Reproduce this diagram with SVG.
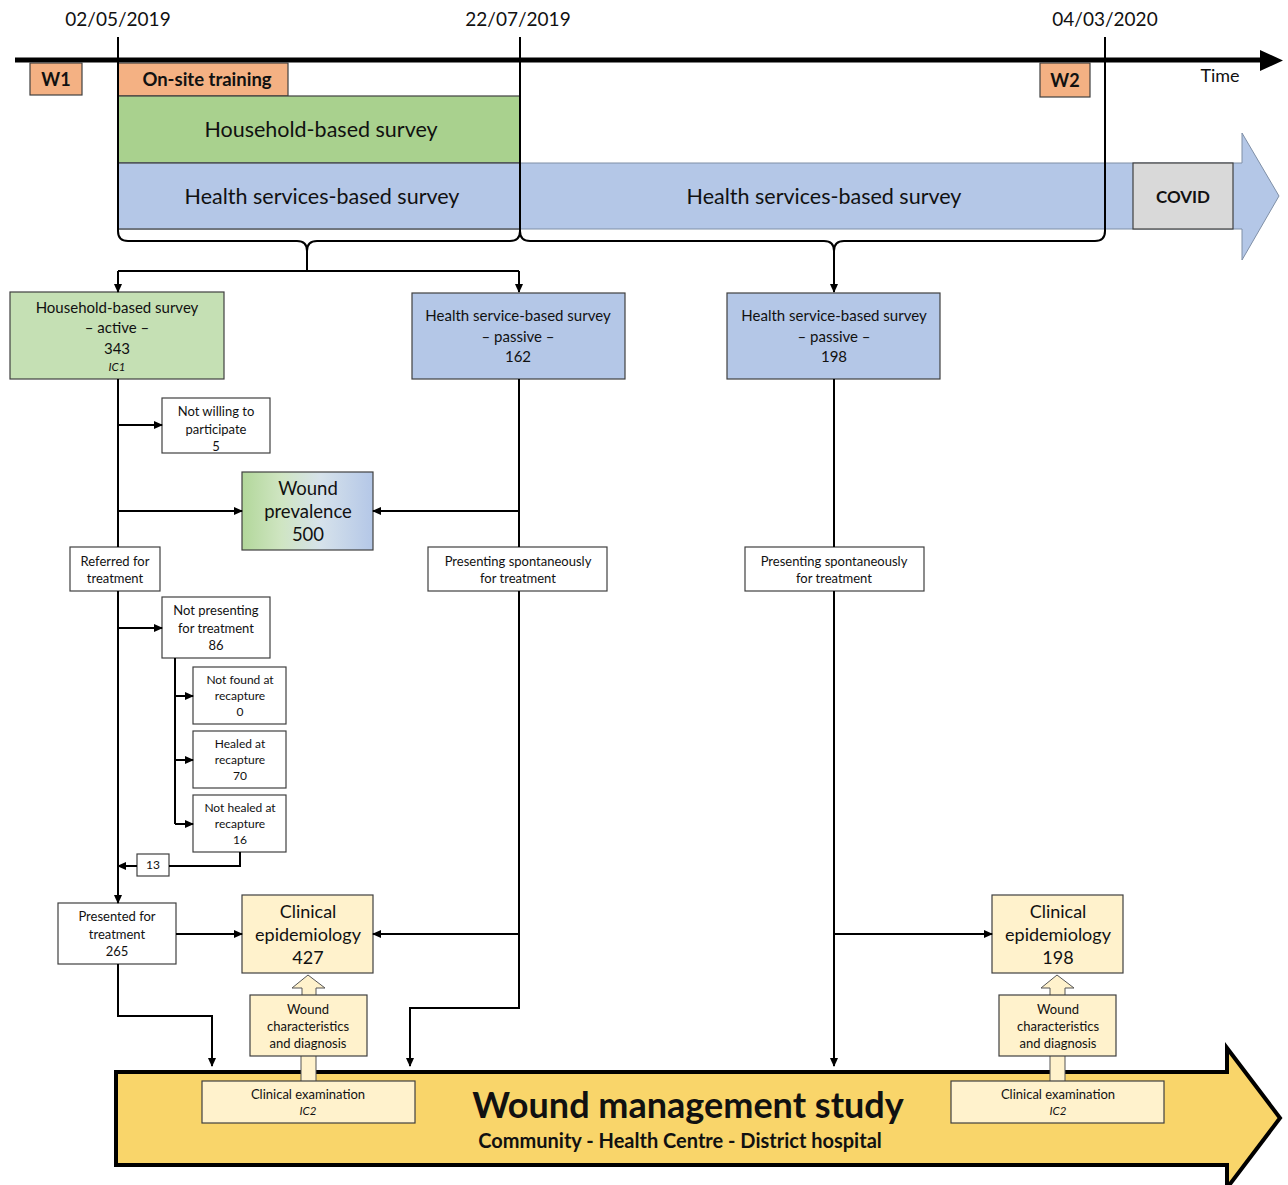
<svg xmlns="http://www.w3.org/2000/svg" width="1288" height="1185" viewBox="0 0 1288 1185">
<defs>
<style>
text{font-family:Lato,"Open Sans","Liberation Sans",sans-serif;fill:#111;text-anchor:middle}
.b{font-weight:bold}
.i{font-style:italic}
.box{stroke:#404040;stroke-width:1.2}
.w{fill:#fff}
.or{fill:#F4B183}
.gr{fill:#A9D18E}
.lg{fill:#C5E0B4}
.bl{fill:#B4C7E7}
.ly{fill:#FFF2CC}
.ln{fill:none;stroke:#000;stroke-width:2}
.ar{fill:none;stroke:#000;stroke-width:2;marker-end:url(#ah)}
</style>
<marker id="ah" markerWidth="9" markerHeight="8" refX="8" refY="4" orient="auto" markerUnits="userSpaceOnUse"><path d="M0,0 L9,4 L0,8 z" fill="#000"/></marker>
<linearGradient id="wp" x1="0" y1="0" x2="1" y2="0">
<stop offset="0" stop-color="#B2D79A"/>
<stop offset="0.3" stop-color="#CFE5C2"/>
<stop offset="0.6" stop-color="#D6E2EB"/>
<stop offset="1" stop-color="#B4C7E7"/>
</linearGradient>
</defs>
<rect width="1288" height="1185" fill="#fff"/>

<g id="timeline">
<text x="118" y="26" font-size="19">02/05/2019</text>
<text x="518" y="26" font-size="19">22/07/2019</text>
<text x="1105" y="26" font-size="19">04/03/2020</text>
<path d="M15,60 H1262" stroke="#000" stroke-width="5"/>
<path d="M1260,50 L1283,60.5 L1260,71 z" fill="#000"/>
<text x="1220" y="82" font-size="18">Time</text>
</g>

<g id="w1"><rect class="box or" x="30" y="63" width="52" height="32"/><text class="b" x="56" y="86" font-size="18">W1</text></g>
<g id="training"><rect class="box or" x="118" y="63" width="170" height="33"/><text class="b" x="207" y="86" font-size="18.5">On-site training</text></g>
<g id="w2"><rect class="box or" x="1040" y="63" width="50" height="34"/><text class="b" x="1065" y="87" font-size="18">W2</text></g>

<g id="hh-bar"><rect class="box gr" x="118" y="96" width="402" height="67"/><text x="321" y="137" font-size="21.5">Household-based survey</text></g>
<g id="hs-arrow">
<path class="bl" d="M118,163 H1242 V133 L1279,196 L1242,260 V229 H118 Z" stroke="#7F8FA6" stroke-width="1"/>
<rect class="box bl" x="118" y="163" width="402" height="66"/>
<text x="322" y="204" font-size="21.5">Health services-based survey</text>
<text x="824" y="204" font-size="21.5">Health services-based survey</text>
</g>
<g id="covid"><rect class="box" fill="#D9D9D9" x="1133" y="163" width="100" height="66"/><text class="b" x="1183" y="203" font-size="17">COVID</text></g>

<g id="brackets">
<path class="ln" d="M118,37 V231 Q118,241 128,241 H297 Q307,241 307,251 Q307,241 317,241 H510 Q520,241 520,231 V37"/>
<path class="ln" d="M520,231 Q520,241 530,241 H824 Q834,241 834,251 Q834,241 844,241 H1095 Q1105,241 1105,231 V37"/>
</g>

<g id="hh-active"><rect class="box lg" x="10" y="292" width="214" height="87"/>
<text x="117" y="313" font-size="15">Household-based survey</text>
<text x="117" y="333" font-size="15">– active –</text>
<text x="117" y="354" font-size="15">343</text>
<text class="i" x="117" y="371" font-size="11.5">IC1</text></g>

<g id="hs-passive-1"><rect class="box bl" x="412" y="293" width="213" height="86"/>
<text x="518" y="321" font-size="15">Health service-based survey</text>
<text x="518" y="342" font-size="15">– passive –</text>
<text x="518" y="362" font-size="15">162</text></g>

<g id="hs-passive-2"><rect class="box bl" x="727" y="293" width="213" height="86"/>
<text x="834" y="321" font-size="15">Health service-based survey</text>
<text x="834" y="342" font-size="15">– passive –</text>
<text x="834" y="362" font-size="15">198</text></g>

<g id="not-willing"><rect class="box w" x="162" y="398" width="108" height="55"/>
<text x="216" y="416" font-size="13">Not willing to</text>
<text x="216" y="434" font-size="13">participate</text>
<text x="216" y="451" font-size="13">5</text></g>

<g id="wound-prevalence"><rect class="box" fill="url(#wp)" x="242" y="472" width="131" height="78"/>
<text x="308" y="495" font-size="18.5">Wound</text>
<text x="308" y="518" font-size="18.5">prevalence</text>
<text x="308" y="541" font-size="18.5">500</text></g>

<g id="referred"><rect class="box w" x="70" y="547" width="90" height="44"/>
<text x="115" y="566" font-size="13">Referred for</text>
<text x="115" y="583" font-size="13">treatment</text></g>

<g id="spont-1"><rect class="box w" x="428" y="547" width="179" height="44"/>
<text x="518" y="566" font-size="13">Presenting spontaneously</text>
<text x="518" y="583" font-size="13">for treatment</text></g>

<g id="spont-2"><rect class="box w" x="745" y="547" width="179" height="44"/>
<text x="834" y="566" font-size="13">Presenting spontaneously</text>
<text x="834" y="583" font-size="13">for treatment</text></g>

<g id="not-presenting"><rect class="box w" x="162" y="597" width="108" height="61"/>
<text x="216" y="615" font-size="13">Not presenting</text>
<text x="216" y="633" font-size="13">for treatment</text>
<text x="216" y="650" font-size="13">86</text></g>

<g id="not-found"><rect class="box w" x="193" y="667" width="93" height="57"/>
<text x="240" y="684" font-size="12">Not found at</text>
<text x="240" y="700" font-size="12">recapture</text>
<text x="240" y="716" font-size="12">0</text></g>

<g id="healed"><rect class="box w" x="193" y="731" width="93" height="57"/>
<text x="240" y="748" font-size="12">Healed at</text>
<text x="240" y="764" font-size="12">recapture</text>
<text x="240" y="780" font-size="12">70</text></g>

<g id="not-healed"><rect class="box w" x="193" y="795" width="93" height="57"/>
<text x="240" y="812" font-size="12">Not healed at</text>
<text x="240" y="828" font-size="12">recapture</text>
<text x="240" y="844" font-size="12">16</text></g>

<g id="n13"><rect class="box w" x="137" y="854" width="32" height="22"/>
<text x="153" y="869" font-size="12">13</text></g>

<g id="presented"><rect class="box w" x="58" y="903" width="118" height="61"/>
<text x="117" y="921" font-size="13">Presented for</text>
<text x="117" y="939" font-size="13">treatment</text>
<text x="117" y="956" font-size="13">265</text></g>

<g id="study-arrow">
<path d="M116,1072 H1227 V1048 L1280,1118 L1227,1188 V1165 H116 Z" fill="#F9D56A" stroke="#000" stroke-width="4"/>
<text class="b" x="688" y="1118" font-size="36">Wound management study</text>
<text class="b" x="680" y="1148" font-size="20">Community - Health Centre - District hospital</text>
</g>

<g id="clin-epi-1"><rect class="box ly" x="242" y="895" width="131" height="78"/>
<text x="308" y="918" font-size="18">Clinical</text>
<text x="308" y="941" font-size="18">epidemiology</text>
<text x="308" y="964" font-size="18">427</text></g>

<g id="up-arrow-1"><path class="ly" d="M301,1082 V1050 H316 V1082 Z" stroke="#555" stroke-width="1"/>
<path class="ly" d="M302,996 V988 H292 L308,975 L325,988 H316 V996 Z" stroke="#555" stroke-width="1"/></g>

<g id="wound-char-1"><rect class="box ly" x="250" y="995" width="117" height="61"/>
<text x="308" y="1014" font-size="13">Wound</text>
<text x="308" y="1031" font-size="13">characteristics</text>
<text x="308" y="1048" font-size="13">and diagnosis</text></g>

<g id="clin-exam-1"><rect class="box ly" x="202" y="1081" width="213" height="42"/>
<text x="308" y="1099" font-size="13">Clinical examination</text>
<text class="i" x="308" y="1115" font-size="11.5">IC2</text></g>

<g id="clin-epi-2"><rect class="box ly" x="992" y="895" width="131" height="78"/>
<text x="1058" y="918" font-size="18">Clinical</text>
<text x="1058" y="941" font-size="18">epidemiology</text>
<text x="1058" y="964" font-size="18">198</text></g>

<g id="up-arrow-2"><path class="ly" d="M1050,1082 V1050 H1065 V1082 Z" stroke="#555" stroke-width="1"/>
<path class="ly" d="M1050,996 V988 H1041 L1057,975 L1074,988 H1065 V996 Z" stroke="#555" stroke-width="1"/></g>

<g id="wound-char-2"><rect class="box ly" x="999" y="995" width="117" height="61"/>
<text x="1058" y="1014" font-size="13">Wound</text>
<text x="1058" y="1031" font-size="13">characteristics</text>
<text x="1058" y="1048" font-size="13">and diagnosis</text></g>

<g id="clin-exam-2"><rect class="box ly" x="951" y="1081" width="213" height="42"/>
<text x="1058" y="1099" font-size="13">Clinical examination</text>
<text class="i" x="1058" y="1115" font-size="11.5">IC2</text></g>

<g id="connectors">
<path class="ln" d="M307,251 V271 M118,271 H519"/>
<path class="ar" d="M118,271 V292"/>
<path class="ar" d="M519,271 V292"/>
<path class="ar" d="M834,251 V292"/>
<path class="ln" d="M118,379 V547"/>
<path class="ar" d="M118,425 H162"/>
<path class="ar" d="M118,511 H242"/>
<path class="ar" d="M118,591 V903"/>
<path class="ar" d="M118,628 H162"/>
<path class="ln" d="M175,658 V824"/>
<path class="ar" d="M175,696 H193"/>
<path class="ar" d="M175,760 H193"/>
<path class="ar" d="M175,824 H193"/>
<path class="ln" d="M240,852 V866 H169"/>
<path class="ar" d="M137,866 H118"/>
<path class="ar" d="M176,934 H242"/>
<path class="ar" d="M118,964 V1016 H212 V1066"/>
<path class="ln" d="M519,379 V547"/>
<path class="ar" d="M519,511 H373"/>
<path class="ar" d="M519,591 V1008 H410 V1066"/>
<path class="ar" d="M519,934 H373"/>
<path class="ln" d="M834,379 V547"/>
<path class="ar" d="M834,591 V1066"/>
<path class="ar" d="M834,934 H992"/>
</g>
</svg>
